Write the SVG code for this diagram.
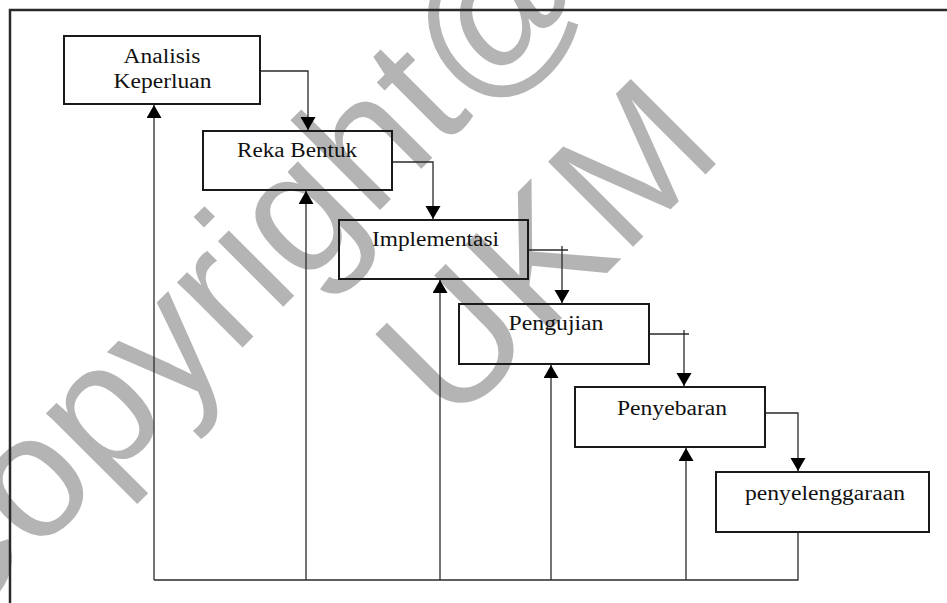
<svg xmlns="http://www.w3.org/2000/svg" width="947" height="603" viewBox="0 0 947 603">
  <style>
    .wm { font-family: "Liberation Sans", Arial, sans-serif; font-size: 175px; fill: #b4b4b4; }
    .box { fill: none; stroke: #1a1a1a; stroke-width: 2; }
    .lbl { font-family: "Liberation Serif", "Times New Roman", serif; font-size: 20.5px; fill: #111; text-anchor: middle; }
    .con { fill: none; stroke: #2a2a2a; stroke-width: 1.3; }
    .frame { fill: none; stroke: #2a2a2a; stroke-width: 2.5; }
  </style>
  <defs>
    <marker id="arr" markerUnits="userSpaceOnUse" markerWidth="14" markerHeight="16" refX="13" refY="7.5" orient="auto">
      <path d="M0,0 L13,7.5 L0,15 Z" fill="#000"/>
    </marker>
  </defs>
  <rect x="0" y="0" width="947" height="603" fill="#fff"/>

  <g id="watermark">
    <text class="wm" transform="translate(-55,645) rotate(-45)">Copyright@</text>
    <text class="wm" transform="translate(451,429) rotate(-45)">UKM</text>
  </g>

  <g id="frame">
    <path class="frame" d="M10,603 V10 H947"/>
  </g>

  <g id="connectors">
    <path class="con" d="M260,71 H308 V130" marker-end="url(#arr)"/>
    <path class="con" d="M392,162 H433 V219" marker-end="url(#arr)"/>
    <path class="con" d="M528,250 H568"/>
    <path class="con" d="M562,246 V303" marker-end="url(#arr)"/>
    <path class="con" d="M649,334 H689"/>
    <path class="con" d="M684,330 V386" marker-end="url(#arr)"/>
    <path class="con" d="M765,413 H798 V471" marker-end="url(#arr)"/>
    <path class="con" d="M798,532 V580 H154"/>
    <path class="con" d="M154,580 V105" marker-end="url(#arr)"/>
    <path class="con" d="M306,580 V191" marker-end="url(#arr)"/>
    <path class="con" d="M440,580 V280" marker-end="url(#arr)"/>
    <path class="con" d="M551,580 V365" marker-end="url(#arr)"/>
    <path class="con" d="M686,580 V448" marker-end="url(#arr)"/>
  </g>

  <g id="analisis">
    <rect class="box" x="64" y="36" width="196" height="68"/>
    <text class="lbl" x="162" y="63" textLength="77" lengthAdjust="spacingAndGlyphs">Analisis</text>
    <text class="lbl" x="162.5" y="87.5" textLength="98" lengthAdjust="spacingAndGlyphs">Keperluan</text>
  </g>
  <g id="reka-bentuk">
    <rect class="box" x="203" y="131" width="189" height="59"/>
    <text class="lbl" x="297" y="157" textLength="120" lengthAdjust="spacingAndGlyphs">Reka Bentuk</text>
  </g>
  <g id="implementasi">
    <rect class="box" x="339" y="220" width="189" height="59"/>
    <text class="lbl" x="435.5" y="246" textLength="127" lengthAdjust="spacingAndGlyphs">Implementasi</text>
  </g>
  <g id="pengujian">
    <rect class="box" x="459" y="304" width="190" height="60"/>
    <text class="lbl" x="556" y="330" textLength="95" lengthAdjust="spacingAndGlyphs">Pengujian</text>
  </g>
  <g id="penyebaran">
    <rect class="box" x="575" y="387" width="190" height="60"/>
    <text class="lbl" x="672" y="414.5" textLength="110" lengthAdjust="spacingAndGlyphs">Penyebaran</text>
  </g>
  <g id="penyelenggaraan">
    <rect class="box" x="716" y="472" width="213" height="60"/>
    <text class="lbl" x="825" y="499.5" textLength="160" lengthAdjust="spacingAndGlyphs">penyelenggaraan</text>
  </g>
</svg>
